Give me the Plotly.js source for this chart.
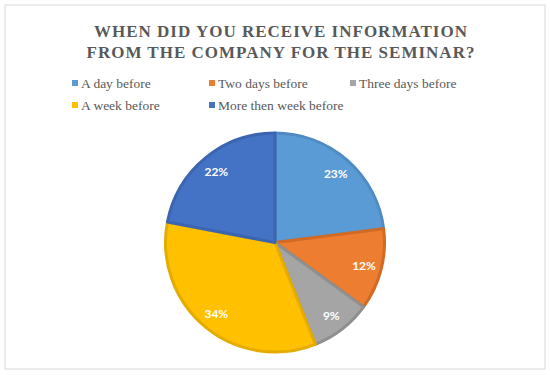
<!DOCTYPE html>
<html>
<head>
<meta charset="utf-8">
<script src="https://cdn.plot.ly/plotly-3.0.1.min.js"></script>
<style>
html,body{margin:0;padding:0;background:#fff;}
#chart{width:550px;height:375px;}
#chart g.annotation[data-index="0"] text,
#chart g.annotation[data-index="1"] text{letter-spacing:1px;}
</style>
</head>
<body>
<div id="chart"></div>
<script>
const categories = ["A day before", "Two days before", "Three days before", "A week before", "More then week before"];
const values = [23, 12, 9, 34, 22];
const titleLines = ["WHEN DID YOU RECEIVE INFORMATION", "FROM THE COMPANY FOR THE SEMINAR?"];

const fillColors = ["#5B9BD5", "#ED7D31", "#A5A5A5", "#FFC000", "#4472C4"];
const lineColors = ["#4F8AC3", "#D06A25", "#8F8F8F", "#E4AB00", "#3B65B0"];

const W = 550, H = 375;
const px = x => x / W;
const py = y => 1 - y / H;
const pieDomain = {x: [0, 1], y: [py(352), py(133)]};

// Filled slices with darker outlines
const pieTrace = {
  type: "pie",
  labels: categories,
  values: values,
  sort: false,
  direction: "clockwise",
  rotation: 0,
  textinfo: "none",
  marker: {colors: fillColors, line: {color: lineColors, width: 3}},
  domain: pieDomain,
  hoverinfo: "label+percent",
  showlegend: false
};

// Transparent ring carrying the percentage labels (places them near the rim)
const labelTrace = {
  type: "pie",
  labels: categories,
  values: values,
  sort: false,
  direction: "clockwise",
  rotation: 0,
  hole: 0.68,
  textinfo: "percent",
  texttemplate: "%{percent:.0%}",
  textposition: "inside",
  insidetextorientation: "horizontal",
  insidetextfont: {family: "Lato, 'Open Sans', sans-serif", size: 12, color: "#FFFFFF", weight: "bold"},
  marker: {colors: categories.map(() => "rgba(0,0,0,0)"), line: {width: 0}},
  domain: pieDomain,
  hoverinfo: "skip",
  showlegend: false
};

const shapes = [{
  type: "rect", xref: "paper", yref: "paper",
  x0: px(5), x1: px(545), y0: py(369), y1: py(5),
  line: {color: "#D9D9D9", width: 1}, fillcolor: "rgba(0,0,0,0)"
}];
const annotations = [];

titleLines.forEach((t, i) => {
  annotations.push({
    xref: "paper", yref: "paper", x: px(281), y: py(31.5 + i * 21),
    xanchor: "center", yanchor: "middle", showarrow: false,
    text: "<b>" + t + "</b>",
    font: {family: "'Liberation Serif', 'Times New Roman', serif", size: 17, color: "#595959"}
  });
});

const legX = [72, 209, 350];
const legY = [83, 105];
categories.forEach((c, i) => {
  const col = i % 3, row = Math.floor(i / 3);
  const x = legX[col], y = legY[row];
  shapes.push({
    type: "rect", xref: "paper", yref: "paper",
    x0: px(x), x1: px(x + 6), y0: py(y + 3), y1: py(y - 3),
    fillcolor: fillColors[i], line: {width: 0}
  });
  annotations.push({
    xref: "paper", yref: "paper", x: px(x + 7), y: py(y),
    xanchor: "left", yanchor: "middle", showarrow: false,
    text: c,
    font: {family: "'Liberation Serif', 'Times New Roman', serif", size: 13.5, color: "#595959"}
  });
});

const layout = {
  width: W, height: H,
  margin: {l: 0, r: 0, t: 0, b: 0},
  paper_bgcolor: "#FFFFFF",
  showlegend: false,
  shapes: shapes,
  annotations: annotations
};

Plotly.newPlot("chart", [pieTrace, labelTrace], layout, {displayModeBar: false, staticPlot: true});
</script>
</body>
</html>
